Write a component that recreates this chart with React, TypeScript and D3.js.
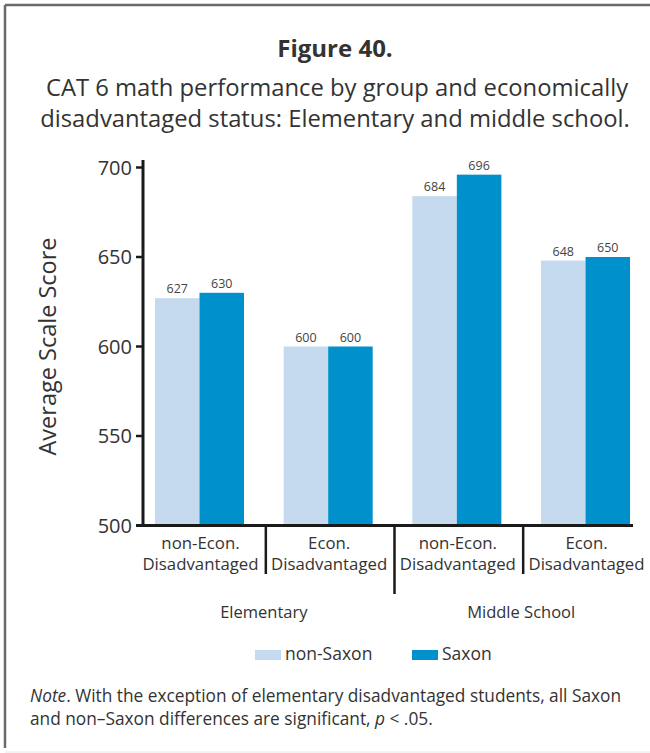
import React from "react";
import * as d3 from "d3";

const groups = ["Elementary", "Middle School"];
const categories = [
  "Elementary|non-Econ.",
  "Elementary|Econ.",
  "Middle School|non-Econ.",
  "Middle School|Econ.",
];
const categoryLines = [
  ["non-Econ.", "Disadvantaged"],
  ["Econ.", "Disadvantaged"],
  ["non-Econ.", "Disadvantaged"],
  ["Econ.", "Disadvantaged"],
];
const seriesNames = ["non-Saxon", "Saxon"];
const nonSaxon = [627, 600, 684, 648];
const saxon = [630, 600, 696, 650];
const yTicks = [500, 550, 600, 650, 700];

const W = 650;
const H = 753;
const FONT = "'Open Sans', 'Noto Sans', sans-serif";
const COLORS = ["#c5daee", "#0091cd"];
const TEXT = "#333";

export default function App() {
  const axisX = 143;
  const axisY = 525.5;
  const y = d3.scaleLinear().domain([500, 700]).range([axisY, 167.5]);
  const x = d3
    .scaleBand<string>()
    .domain(categories)
    .range([143, 642])
    .paddingInner(0.308)
    .paddingOuter(0.093);
  const inner = d3
    .scaleBand<string>()
    .domain(seriesNames)
    .range([0, x.bandwidth()]);
  const series = [nonSaxon, saxon];

  const step = x.step();
  const separators = categories.slice(0, -1).map((c, i) => ({
    x: (x(c) as number) + x.bandwidth() + (step - x.bandwidth()) / 2 + 2,
    long: i === 1,
  }));

  const groupCenter = (g: string) => {
    const cs = categories.filter((c) => c.startsWith(g + "|"));
    const a = x(cs[0]) as number;
    const b = (x(cs[cs.length - 1]) as number) + x.bandwidth();
    return (a + b) / 2;
  };

  return (
    <svg
      width={W}
      height={H}
      viewBox={`0 0 ${W} ${H}`}
      style={{ display: "block", position: "absolute", left: 0, top: 0, background: "#fff" }}
      fontFamily={FONT}
    >
      {/* frame */}
      <line x1={5} y1={5} x2={W} y2={5} stroke="#6a6a6a" strokeWidth={2.5} />
      <line x1={5} y1={5} x2={5} y2={748} stroke="#6a6a6a" strokeWidth={2.5} />
      <line x1={5} y1={752} x2={W} y2={752} stroke="#e6e6e6" strokeWidth={1} />

      {/* heading */}
      <text x={335} y={57} textAnchor="middle" fontSize={24} fontWeight="bold" fill={TEXT}>
        Figure 40.
      </text>
      <text x={337} y={96} textAnchor="middle" fontSize={23.8} fill={TEXT}>
        CAT 6 math performance by group and economically
      </text>
      <text x={335} y={127} textAnchor="middle" fontSize={23.8} fill={TEXT}>
        disadvantaged status: Elementary and middle school.
      </text>

      {/* bars */}
      {categories.map((c, i) =>
        seriesNames.map((s, j) => {
          const v = series[j][i];
          const bx = (x(c) as number) + (inner(s) as number);
          return (
            <g key={c + s}>
              <rect
                x={bx}
                y={y(v)}
                width={inner.bandwidth()}
                height={axisY - y(v)}
                fill={COLORS[j]}
              />
              <text
                x={bx + inner.bandwidth() / 2}
                y={y(v) - 5}
                textAnchor="middle"
                fontSize={12.5}
                fill="#444"
              >
                {v}
              </text>
            </g>
          );
        })
      )}

      {/* y axis */}
      <line x1={axisX} y1={160} x2={axisX} y2={axisY + 1.5} stroke="#1a1a1a" strokeWidth={3} />
      {yTicks.map((t) => (
        <g key={t}>
          <line x1={136} x2={axisX} y1={y(t)} y2={y(t)} stroke="#1a1a1a" strokeWidth={2.5} />
          <text x={132} y={y(t) + 7} textAnchor="end" fontSize={20} fill={TEXT}>
            {t}
          </text>
        </g>
      ))}
      <text
        transform={`translate(56, ${(y(700) + axisY) / 2}) rotate(-90)`}
        textAnchor="middle"
        fontSize={23.5}
        fill={TEXT}
      >
        Average Scale Score
      </text>

      {/* x axis */}
      <line x1={136} x2={633} y1={axisY} y2={axisY} stroke="#1a1a1a" strokeWidth={3} />
      {separators.map((s, i) => (
        <line
          key={i}
          x1={s.x}
          x2={s.x}
          y1={axisY}
          y2={s.long ? 594 : 574}
          stroke="#1a1a1a"
          strokeWidth={2.5}
        />
      ))}
      {categories.map((c, i) => {
        const cx = (x(c) as number) + x.bandwidth() / 2 + 1;
        return (
          <text key={c} textAnchor="middle" fontSize={16.8} fill={TEXT}>
            <tspan x={cx} y={549}>
              {categoryLines[i][0]}
            </tspan>
            <tspan x={cx} y={570}>
              {categoryLines[i][1]}
            </tspan>
          </text>
        );
      })}
      {groups.map((g) => (
        <text key={g} x={groupCenter(g)} y={618} textAnchor="middle" fontSize={16.5} fill={TEXT}>
          {g}
        </text>
      ))}

      {/* legend */}
      {seriesNames.map((s, j) => {
        const lx = j === 0 ? 255 : 412;
        return (
          <g key={s}>
            <rect x={lx} y={650} width={26} height={10} fill={COLORS[j]} />
            <text x={lx + 30} y={660} fontSize={17.5} fill={TEXT}>
              {s}
            </text>
          </g>
        );
      })}

      {/* note */}
      <text x={30} y={702} fontSize={17.3} fill={TEXT}>
        <tspan fontStyle="italic">Note</tspan>
        <tspan>. With the exception of elementary disadvantaged students, all Saxon</tspan>
      </text>
      <text x={30} y={725} fontSize={17.3} fill={TEXT}>
        <tspan>and non–Saxon differences are significant, </tspan>
        <tspan fontStyle="italic">p</tspan>
        <tspan> &lt; .05.</tspan>
      </text>
    </svg>
  );
}
